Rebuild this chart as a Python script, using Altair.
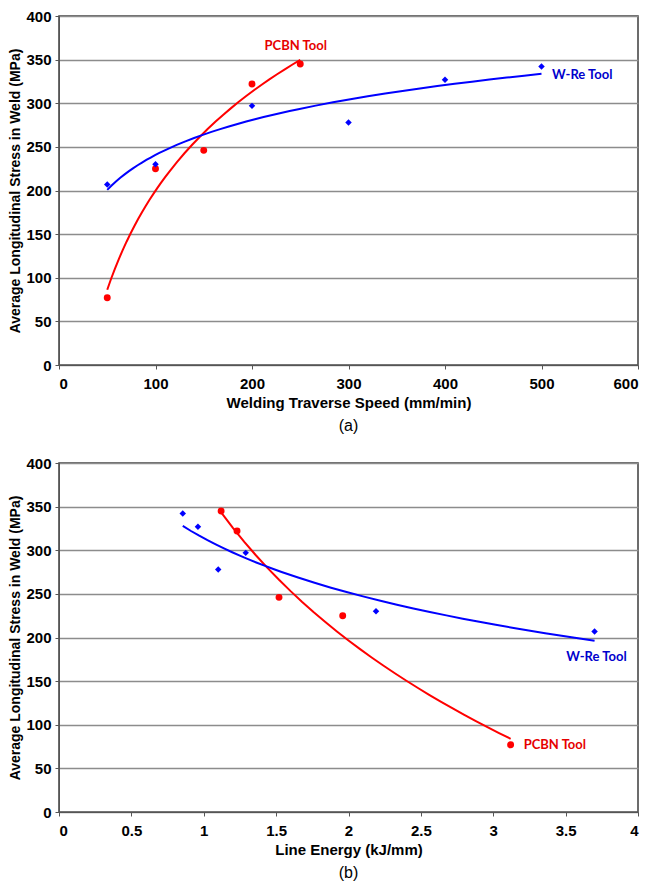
import altair as alt
import pandas as pd

# ---------------- data ----------------
series = ["PCBN Tool", "W-Re Tool"]
line_colors = ["#ff0000", "#0000ff"]
label_colors = ["#e60000", "#0000cc"]

# Panel (a): welding traverse speed (mm/min) vs stress (MPa)
speed_pcbn = [50, 100, 150, 200, 250]
stress_pcbn = [77, 225, 246, 322, 345]
speed_wre = [50, 100, 200, 300, 400, 500]
stress_wre = [207, 230, 297, 278, 327, 342]

# Panel (b): line energy (kJ/mm), same welds in the same order
energy_pcbn = [3.12, 1.96, 1.52, 1.23, 1.12]
energy_wre = [3.70, 2.19, 1.29, 1.10, 0.96, 0.855]

# text label anchors (data units)
label_a_x = [213, 511]
label_a_y = [366, 332]
label_b_x = [3.21, 3.505]
label_b_y = [77, 178]

y_ticks = [0, 50, 100, 150, 200, 250, 300, 350, 400]
x_ticks_a = [0, 100, 200, 300, 400, 500, 600]
x_ticks_b = [0, 0.5, 1, 1.5, 2, 2.5, 3, 3.5, 4]

y_title = "Average Longitudinal Stress in Weld (MPa)"


def make_df(xs_p, ys_p, xs_w, ys_w):
    return pd.DataFrame({
        "x": list(xs_p) + list(xs_w),
        "stress": list(ys_p) + list(ys_w),
        "tool": [series[0]] * len(xs_p) + [series[1]] * len(xs_w),
    })


df_a = make_df(speed_pcbn, stress_pcbn, speed_wre, stress_wre)
df_b = make_df(energy_pcbn, stress_pcbn, energy_wre, stress_wre)
lab_a = pd.DataFrame({"x": label_a_x, "stress": label_a_y, "tool": series})
lab_b = pd.DataFrame({"x": label_b_x, "stress": label_b_y, "tool": series})

W, H = 579, 349


def panel(df, lab, xdom, xticks, xtitle, caption):
    xenc = alt.X("x:Q", scale=alt.Scale(domain=xdom, nice=False, zero=False),
                 axis=alt.Axis(values=xticks, title=xtitle, format="~f", grid=False))
    yenc = alt.Y("stress:Q", scale=alt.Scale(domain=[0, 400], nice=False),
                 axis=alt.Axis(values=y_ticks, title=y_title, format="~f", grid=True))
    base = alt.Chart(df)
    fit = base.transform_regression(
        "x", "stress", method="log", groupby=["tool"]
    ).mark_line(strokeWidth=2).encode(
        x=xenc, y=yenc,
        color=alt.Color("tool:N", scale=alt.Scale(domain=series, range=line_colors), legend=None),
    )
    pts_p = base.transform_filter(alt.datum.tool == series[0]).mark_circle(
        size=48, opacity=1, color=line_colors[0]).encode(x=xenc, y=yenc)
    pts_w = base.transform_filter(alt.datum.tool == series[1]).mark_point(
        shape="diamond", filled=True, size=42, opacity=1, color=line_colors[1]).encode(x=xenc, y=yenc)
    labels = alt.Chart(lab).mark_text(
        align="left", baseline="middle", font="Lato", fontWeight="bold", fontSize=13
    ).encode(
        x=alt.X("x:Q"), y=alt.Y("stress:Q"), text="tool:N",
        color=alt.Color("tool:N", scale=alt.Scale(domain=series, range=label_colors), legend=None),
    )
    return alt.layer(fit, pts_p, pts_w, labels).resolve_scale(color="independent").properties(
        width=W, height=H,
        title=alt.TitleParams(caption, orient="bottom", anchor="middle", font="Liberation Sans",
                              fontSize=16, fontWeight="normal", color="black", offset=8),
    )


pa = panel(df_a, lab_a, [0, 600], x_ticks_a, "Welding Traverse Speed (mm/min)", "(a)")
pb = panel(df_b, lab_b, [0, 4], x_ticks_b, "Line Energy (kJ/mm)", "(b)")

chart = alt.vconcat(pa, pb, spacing=20).properties(
    padding={"left": 0, "top": 0, "right": 0, "bottom": 0}
).configure_view(
    stroke="#3c3c3c", strokeWidth=1.5
).configure_axis(
    labelFont="Liberation Sans", labelFontWeight="bold", labelFontSize=15, labelColor="black",
    titleFont="Liberation Sans", titleFontWeight="bold", titleColor="black",
    tickColor="#555555", tickSize=4, domainColor="#555555",
    gridColor="#8c8c8c", gridWidth=1.5,
).configure_axisX(
    labelPadding=7, titlePadding=4, titleFontSize=15,
).configure_axisY(
    labelPadding=4, titlePadding=3, titleFontSize=14,
)

chart.save("out.html", embed_options={"renderer": "svg", "actions": False})
